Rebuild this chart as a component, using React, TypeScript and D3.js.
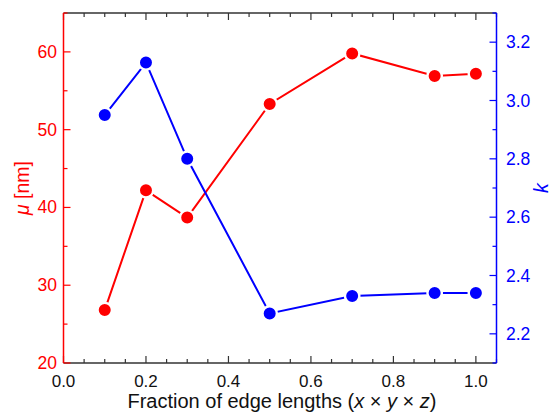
import React from "react";
import * as d3 from "d3";

const fractions = [0.1, 0.2, 0.3, 0.5, 0.7, 0.9, 1.0];
const muValues = [26.8, 42.2, 38.7, 53.3, 59.8, 56.9, 57.2];
const kValues = [2.95, 3.13, 2.8, 2.27, 2.33, 2.34, 2.34];
const xTicks = [0, 0.2, 0.4, 0.6, 0.8, 1.0];
const muTicks = [20, 30, 40, 50, 60];
const kTicks = [2.2, 2.4, 2.6, 2.8, 3.0, 3.2];

const W = 551;
const H = 416;
const L = 63.5, R = 496.5, T = 13, B = 363;
const RED = "#ff0000";
const BLUE = "#0000ff";
const GREY = "#333333";
const FONT = "'Liberation Sans', Arial, sans-serif";

export default function App() {
  const x = d3.scaleLinear().domain([0, 1.05]).range([L, R]);
  const yMu = d3.scaleLinear().domain([20, 65]).range([B, T]);
  const yK = d3.scaleLinear().domain([2.1, 3.3]).range([B, T]);

  const xMinor = d3.range(0, 1.0501, 0.05);
  const muMinor = d3.range(20, 65.01, 5);
  const kMinor = d3.range(2.1, 3.301, 0.1);

  const lineMu = d3.line<number>().x((_, i) => x(fractions[i])).y((d) => yMu(d));
  const lineK = d3.line<number>().x((_, i) => x(fractions[i])).y((d) => yK(d));

  const isMajor = (v: number, step: number) => Math.abs(v / step - Math.round(v / step)) < 1e-6;

  return (
    <svg width={W} height={H} style={{ position: "absolute", left: 0, top: 0, background: "#fff" }}>
      {/* top and bottom axes */}
      <line x1={L} x2={R} y1={B} y2={B} stroke={GREY} strokeWidth={1.5} />
      <line x1={L} x2={R} y1={T} y2={T} stroke={GREY} strokeWidth={1.5} />
      {xMinor.map((v, i) => {
        const major = isMajor(v, 0.2);
        const len = major ? 7 : 4;
        return (
          <g key={"xt" + i}>
            <line x1={x(v)} x2={x(v)} y1={B} y2={B - len} stroke={GREY} strokeWidth={1.2} />
            <line x1={x(v)} x2={x(v)} y1={T} y2={T + len} stroke={GREY} strokeWidth={1.2} />
          </g>
        );
      })}
      {xTicks.map((v) => (
        <text key={"xl" + v} x={x(v)} y={386.5} textAnchor="middle" fontSize={17} fontFamily={FONT} fill="#111">
          {v.toFixed(1)}
        </text>
      ))}
      <text x={(L + R) / 2 + 2} y={408} textAnchor="middle" fontSize={20} fontFamily={FONT} fill="#111">
        Fraction of edge lengths (<tspan fontStyle="italic">x</tspan> × <tspan fontStyle="italic">y</tspan> ×{" "}
        <tspan fontStyle="italic">z</tspan>)
      </text>

      {/* left axis */}
      <line x1={L} x2={L} y1={T} y2={B} stroke={RED} strokeWidth={1.5} />
      {muMinor.map((v, i) => {
        const major = isMajor(v, 10);
        return (
          <line key={"mt" + i} x1={L} x2={L + (major ? 7 : 4)} y1={yMu(v)} y2={yMu(v)} stroke={RED} strokeWidth={1.2} />
        );
      })}
      {muTicks.map((v) => (
        <text key={"ml" + v} x={57} y={yMu(v) + 6} textAnchor="end" fontSize={17.5} fontFamily={FONT} fill={RED}>
          {v}
        </text>
      ))}
      <text
        transform={`translate(29,${(T + B) / 2}) rotate(-90)`}
        textAnchor="middle"
        fontSize={19.5}
        fontFamily={FONT}
        fill={RED}
      >
        <tspan fontStyle="italic">μ</tspan> [nm]
      </text>

      {/* right axis */}
      <line x1={R} x2={R} y1={T} y2={B} stroke={BLUE} strokeWidth={1.5} />
      {kMinor.map((v, i) => {
        const major = isMajor(v, 0.2);
        return (
          <line key={"kt" + i} x1={R} x2={R - (major ? 7 : 4)} y1={yK(v)} y2={yK(v)} stroke={BLUE} strokeWidth={1.2} />
        );
      })}
      {kTicks.map((v) => (
        <text key={"kl" + v} x={506} y={yK(v) + 6} textAnchor="start" fontSize={17.5} fontFamily={FONT} fill={BLUE}>
          {v.toFixed(1)}
        </text>
      ))}
      <text
        transform={`translate(548,${(T + B) / 2}) rotate(-90)`}
        textAnchor="middle"
        fontSize={19.5}
        fontFamily={FONT}
        fontStyle="italic"
        fill={BLUE}
      >
        k
      </text>

      {/* series */}
      <path d={lineMu(muValues) || ""} fill="none" stroke={RED} strokeWidth={2} />
      {muValues.map((v, i) => (
        <circle key={"mc" + i} cx={x(fractions[i])} cy={yMu(v)} r={7.2} fill={RED} stroke="#fff" strokeWidth={2.4} />
      ))}
      <path d={lineK(kValues) || ""} fill="none" stroke={BLUE} strokeWidth={2} />
      {kValues.map((v, i) => (
        <circle key={"kc" + i} cx={x(fractions[i])} cy={yK(v)} r={7.2} fill={BLUE} stroke="#fff" strokeWidth={2.4} />
      ))}
    </svg>
  );
}
